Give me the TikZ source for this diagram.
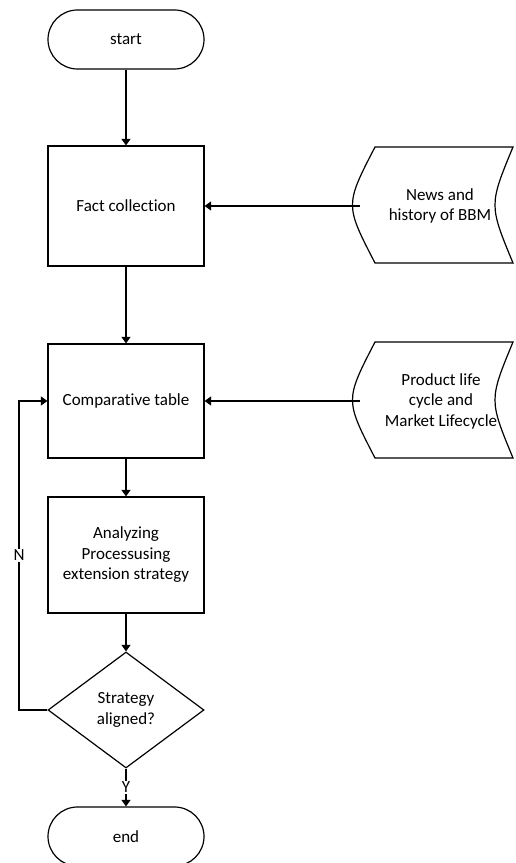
\documentclass[tikz,border=0pt]{standalone}
\usepackage{fontspec}
\setmainfont{Carlito}[RawFeature=-liga]
\usetikzlibrary{shapes.geometric,arrows.meta}
\begin{document}
\begin{tikzpicture}[x=1pt,y=1pt,
  base/.style={draw=black,line width=1.2pt,align=center,inner sep=0pt,
    font=\fontsize{17}{20.5}\selectfont},
  term/.style={base,rectangle,rounded corners=29.5pt,minimum width=156pt,minimum height=59pt},
  proc/.style={base,rectangle,minimum width=156pt},
  deci/.style={base,diamond,minimum width=156pt,minimum height=116pt},
  dtext/.style={align=center,inner sep=0pt,font=\fontsize{17}{20.5}\selectfont},
  dshape/.style={draw=black,line width=1.2pt},
  conn/.style={draw=black,line width=1.2pt,-{Triangle[width=9pt,length=6.5pt]}},
  lbl/.style={fill=white,inner sep=1.5pt,font=\fontsize{17}{20.5}\selectfont}
]
\useasboundingbox (0,0) rectangle (515,863);
\node[term] (start) at (126,823.5) {start};
\node[proc,minimum height=120pt] (fact) at (126,657) {Fact collection};
\node[proc,minimum height=114pt] (comp) at (126,462) {Comparative table};
\node[proc,minimum height=116pt] (anal) at (126,308) {Analyzing\\Processusing\\extension strategy};
\node[deci] (dec) at (126,153) {Strategy\\aligned?};
\node[term] (end) at (126,26.5) {end};

% data shapes
\node[dtext] (news) at (440,657) {News and\\history of BBM};
\draw[dshape] (375,716) -- (513,716) .. controls (489,658) .. (513,600) -- (375,600) .. controls (345,658) .. (375,716) -- cycle;
\coordinate (newsL) at (360,657);
\node[dtext] (plc) at (441,462) {Product life\\cycle and\\Market Lifecycle};
\draw[dshape] (375,521) -- (513,521) .. controls (489,463) .. (513,405) -- (375,405) .. controls (345,463) .. (375,521) -- cycle;
\coordinate (plcL) at (360,462);

\draw[conn] (start) -- (fact);
\draw[conn] (fact) -- (comp);
\draw[conn] (comp) -- (anal);
\draw[conn] (anal) -- (dec);
\draw[conn] (dec) -- node[lbl] {Y} (end);
\draw[conn] (newsL) -- (fact.east);
\draw[conn] (plcL) -- (comp.east);
\coordinate (loopB) at (19,153);
\coordinate (loopT) at (19,462);
\draw[conn] (dec.west) -- (loopB) -- node[lbl] {N} (loopT) -- (comp.west);
\end{tikzpicture}
\end{document}
